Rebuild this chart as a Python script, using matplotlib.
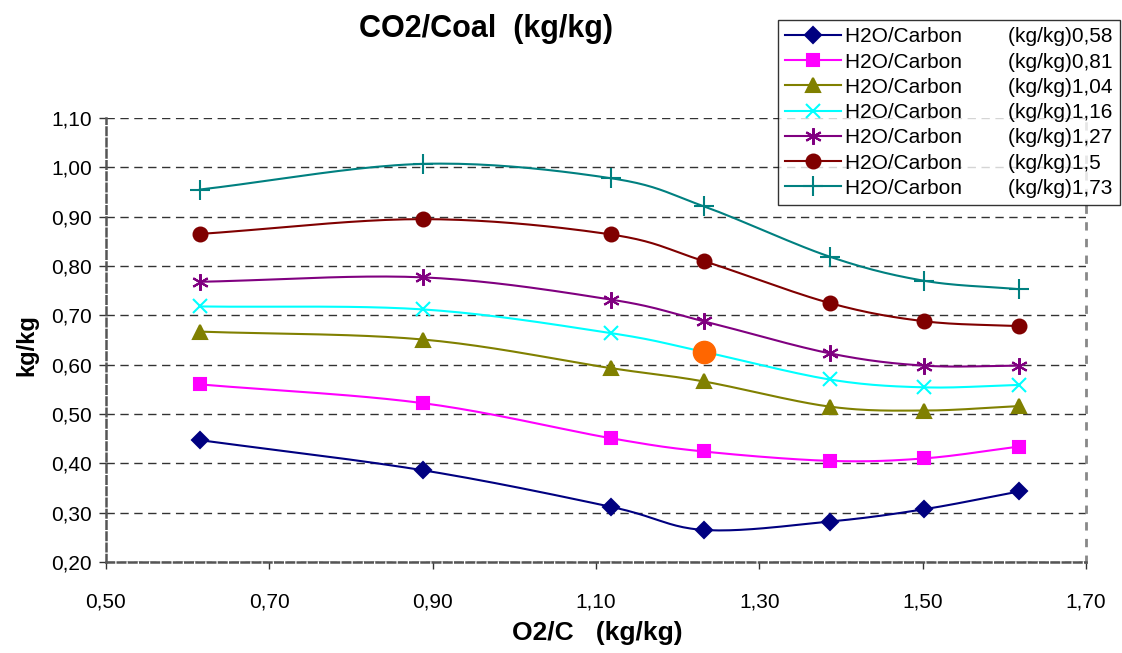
"""CO2/Coal versus O2/C for several H2O/Carbon ratios."""

import numpy as np
import matplotlib
matplotlib.use("Agg")
import matplotlib.pyplot as plt
from matplotlib.ticker import FuncFormatter

plt.rcParams['font.family'] = ['Liberation Sans', 'DejaVu Sans']

# O2/C values (same for every series)
o2_c = [0.615, 0.888, 1.118, 1.232, 1.386, 1.502, 1.618]

# H2O/Carbon ratios in the legend
h2o_labels = ["0,58", "0,81", "1,04", "1,16", "1,27", "1,5", "1,73"]

# CO2/Coal values per series
co2_058 = [0.447, 0.386, 0.312, 0.265, 0.282, 0.307, 0.343]
co2_081 = [0.560, 0.522, 0.451, 0.424, 0.405, 0.410, 0.434]
co2_104 = [0.667, 0.651, 0.593, 0.566, 0.515, 0.507, 0.516]
co2_116 = [0.718, 0.712, 0.664, 0.626, 0.570, 0.554, 0.559]
co2_127 = [0.768, 0.777, 0.732, 0.688, 0.623, 0.598, 0.598]
co2_150 = [0.865, 0.895, 0.864, 0.810, 0.725, 0.688, 0.678]
co2_173 = [0.955, 1.007, 0.978, 0.921, 0.819, 0.770, 0.753]

# highlighted point (on the 1,16 series)
highlight_series = 3
highlight_index = 3

series = [co2_058, co2_081, co2_104, co2_116, co2_127, co2_150, co2_173]
colors = ['#000080', '#FF00FF', '#808000', '#00FFFF', '#800080', '#800000', '#008080']
markers = ['D', 's', '^', 'x', (6, 2, 0), 'o', '+']
msizes = [8, 9, 10, 10, 12, 10, 14]


def smooth(x, y, n=24):
    """Catmull-Rom curve through the points, like Excel's smoothed lines."""
    p = np.column_stack([x, y])
    p = np.vstack([2 * p[0] - p[1], p, 2 * p[-1] - p[-2]])
    out = []
    t = np.linspace(0, 1, n)[:, None]
    for i in range(1, len(p) - 2):
        p0, p1, p2, p3 = p[i - 1], p[i], p[i + 1], p[i + 2]
        seg = 0.5 * ((2 * p1) + (-p0 + p2) * t + (2 * p0 - 5 * p1 + 4 * p2 - p3) * t ** 2
                     + (-p0 + 3 * p1 - 3 * p2 + p3) * t ** 3)
        out.append(seg)
    out = np.vstack(out)
    return out[:, 0], out[:, 1]


fig = plt.figure(figsize=(11.22, 6.53), dpi=100)
ax = fig.add_axes([106 / 1122, 1 - 562 / 653, 980 / 1122, 444 / 653])

handles = []
for i, vals in enumerate(series):
    sx, sy = smooth(o2_c, vals)
    ax.plot(sx, sy, color=colors[i], lw=1.5, zorder=3)
    idx = [k for k in range(len(vals)) if not (i == highlight_series and k == highlight_index)]
    mk_kw = dict(marker=markers[i], ms=msizes[i], color=colors[i], mec=colors[i], mew=1.5)
    ax.plot([o2_c[k] for k in idx], [vals[k] for k in idx], ls='none', zorder=4, **mk_kw)
    h, = ax.plot([], [], lw=1.5, **mk_kw)
    handles.append(h)

ax.plot(o2_c[highlight_index], series[highlight_series][highlight_index], 'o',
        color='#FF6600', ms=16, mec='#FF6600', zorder=5)

ax.set_xlim(0.5, 1.7)
ax.set_ylim(0.2, 1.1)
ax.set_xticks(np.arange(0.5, 1.71, 0.2))
ax.set_yticks(np.arange(0.2, 1.11, 0.1))
comma = FuncFormatter(lambda v, pos: f"{v:.2f}".replace('.', ','))
ax.xaxis.set_major_formatter(comma)
ax.yaxis.set_major_formatter(comma)
ax.tick_params(labelsize=15, length=5, width=1, color='#333333', direction='out')
ax.tick_params(axis='x', pad=17)
ax.tick_params(axis='y', pad=5)

ax.grid(axis='y', color='#333333', ls=(0, (6, 4)), lw=1)
ax.set_axisbelow(True)
for side in ['left', 'bottom']:
    ax.spines[side].set_color('#555555')
    ax.spines[side].set_linestyle((0, (3, 1.5)))
    ax.spines[side].set_linewidth(1.8)
ax.spines['right'].set_color('#888888')
ax.spines['right'].set_linestyle((0, (2, 4)))
ax.spines['right'].set_linewidth(2)
ax.spines['top'].set_visible(False)

fig.text(486 / 1122, 1 - 29 / 653, "CO2/Coal  (kg/kg)", ha='center', va='center',
         fontsize=22, fontweight='bold')
fig.text(597 / 1122, 1 - 633 / 653, "O2/C   (kg/kg)", ha='center', va='center',
         fontsize=19, fontweight='bold')
fig.text(27 / 1122, 1 - 345 / 653, "kg/kg", ha='center', va='center', rotation=90,
         fontsize=17, fontweight='bold')

labels = ["H2O/Carbon        (kg/kg)" + s for s in h2o_labels]
leg = fig.legend(handles, labels, loc='upper right', bbox_to_anchor=(1120 / 1122, 1 - 20 / 653),
                 fontsize=15, frameon=True, fancybox=False, edgecolor='black',
                 handlelength=2.7, handletextpad=0.2, labelspacing=0.3,
                 borderpad=0.35, borderaxespad=0)
leg.get_frame().set_linewidth(1)

fig.savefig("out.png", dpi=100)
